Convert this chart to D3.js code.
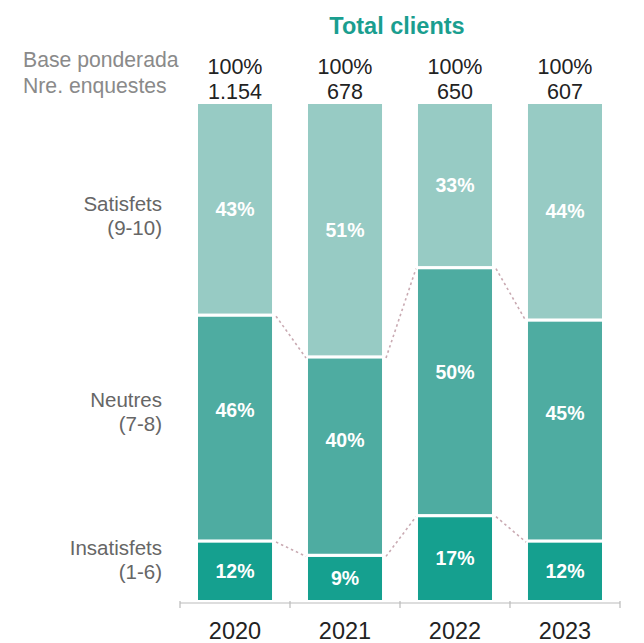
<!DOCTYPE html>
<html><head><meta charset="utf-8">
<script src="https://cdn.jsdelivr.net/npm/d3@7"></script>
<style>body{margin:0;background:#fff}svg{display:block}</style>
</head><body>
<svg id="c" width="644" height="643"></svg>
<script>
const years = ["2020","2021","2022","2023"];
const baseLabels = ["100%","100%","100%","100%"];
const nLabels = ["1.154","678","650","607"];
const categories = ["Satisfets","Neutres","Insatisfets"];
const catSub = ["(9-10)","(7-8)","(1-6)"];
const satisfets = [43,51,33,44];
const neutres = [46,40,50,45];
const insatisfets = [12,9,17,12];
const colors = ["#97cbc4","#4eaca1","#15a08f"];

const svg = d3.select("#c");
const font = "Liberation Sans, Arial, sans-serif";
const x = d3.scaleBand().domain(years).range([180,620]).paddingInner(0.327).paddingOuter(0.1636);
const y = d3.scaleLinear().domain([0,1]).range([600,104]);
const series = [satisfets, neutres, insatisfets];

// title
svg.append("text").attr("x",397).attr("y",34).attr("text-anchor","middle")
  .attr("font-family",font).attr("font-weight","bold").attr("font-size",23.5)
  .attr("fill","#1a9e8f").text("Total clients");

// header labels
svg.append("text").attr("x",23).attr("y",67).attr("font-family",font).attr("font-size",21.2).attr("fill","#8a8a8a").text("Base ponderada");
svg.append("text").attr("x",23).attr("y",93).attr("font-family",font).attr("font-size",21.2).attr("fill","#8a8a8a").text("Nre. enquestes");
years.forEach((yr,i)=>{
  const cx = x(yr)+x.bandwidth()/2;
  svg.append("text").attr("x",cx).attr("y",74).attr("text-anchor","middle").attr("font-family",font).attr("font-size",21.5).attr("fill","#222").text(baseLabels[i]);
  svg.append("text").attr("x",cx).attr("y",99).attr("text-anchor","middle").attr("font-family",font).attr("font-size",21.5).attr("fill","#222").text(nLabels[i]);
});

// stacks (normalized by bar total), top = satisfets
const stacks = years.map((yr,i)=>{
  const vals = series.map(s=>s[i]);
  const tot = d3.sum(vals);
  let cum = 1;
  return vals.map((v,k)=>{ const top=cum; cum -= v/tot; return {yr, k, v, top, bot: Math.max(cum,0)}; });
});

// connectors
for(let i=0;i<years.length-1;i++){
  [1,2].forEach(k=>{
    const a = stacks[i][k].top, b = stacks[i+1][k].top;
    svg.append("line")
      .attr("x1",x(years[i])+x.bandwidth()+4).attr("y1",y(a)+1)
      .attr("x2",x(years[i+1])-2).attr("y2",y(b)+1)
      .attr("stroke","#c9aab2").attr("stroke-width",1.6).attr("stroke-dasharray","2.5,3");
  });
}

const gap = 1.6;
stacks.forEach(st=>{
  st.forEach(d=>{
    const yt = y(d.top) + (d.k>0?gap:0);
    const yb = y(d.bot) - (d.k<2?gap:0);
    svg.append("rect").attr("x",x(d.yr)).attr("y",yt).attr("width",x.bandwidth()).attr("height",yb-yt).attr("fill",colors[d.k]);
    const frac = d.k===1 ? 0.42 : 0.5;
    svg.append("text").attr("x",x(d.yr)+x.bandwidth()/2).attr("y",yt+(yb-yt)*frac).attr("dy","0.35em")
      .attr("text-anchor","middle").attr("font-family",font).attr("font-weight","bold").attr("font-size",19.5)
      .attr("fill","#fff").text(d.v+"%");
  });
});

// category labels
const catY = [[204,228],[400,424],[548,572]];
categories.forEach((c,k)=>{
  svg.append("text").attr("x",162).attr("y",catY[k][0]+7).attr("text-anchor","end").attr("font-family",font).attr("font-size",20.5).attr("fill","#666").text(c);
  svg.append("text").attr("x",162).attr("y",catY[k][1]+7).attr("text-anchor","end").attr("font-family",font).attr("font-size",20.5).attr("fill","#666").text(catSub[k]);
});

// axis
const ax = svg.append("g").attr("transform","translate(0,603)");
ax.append("line").attr("x1",180).attr("x2",620).attr("stroke","#bbb").attr("stroke-width",1.2);
[180, ...years.slice(1).map(yr=>x(yr)-(x.step()-x.bandwidth())/2), 620].forEach(t=>{
  ax.append("line").attr("x1",t).attr("x2",t).attr("y1",-2).attr("y2",5).attr("stroke","#bbb").attr("stroke-width",1.2);
});
years.forEach(yr=>{
  svg.append("text").attr("x",x(yr)+x.bandwidth()/2).attr("y",639).attr("text-anchor","middle").attr("font-family",font).attr("font-size",23.5).attr("fill","#222").text(yr);
});
</script>
</body></html>
